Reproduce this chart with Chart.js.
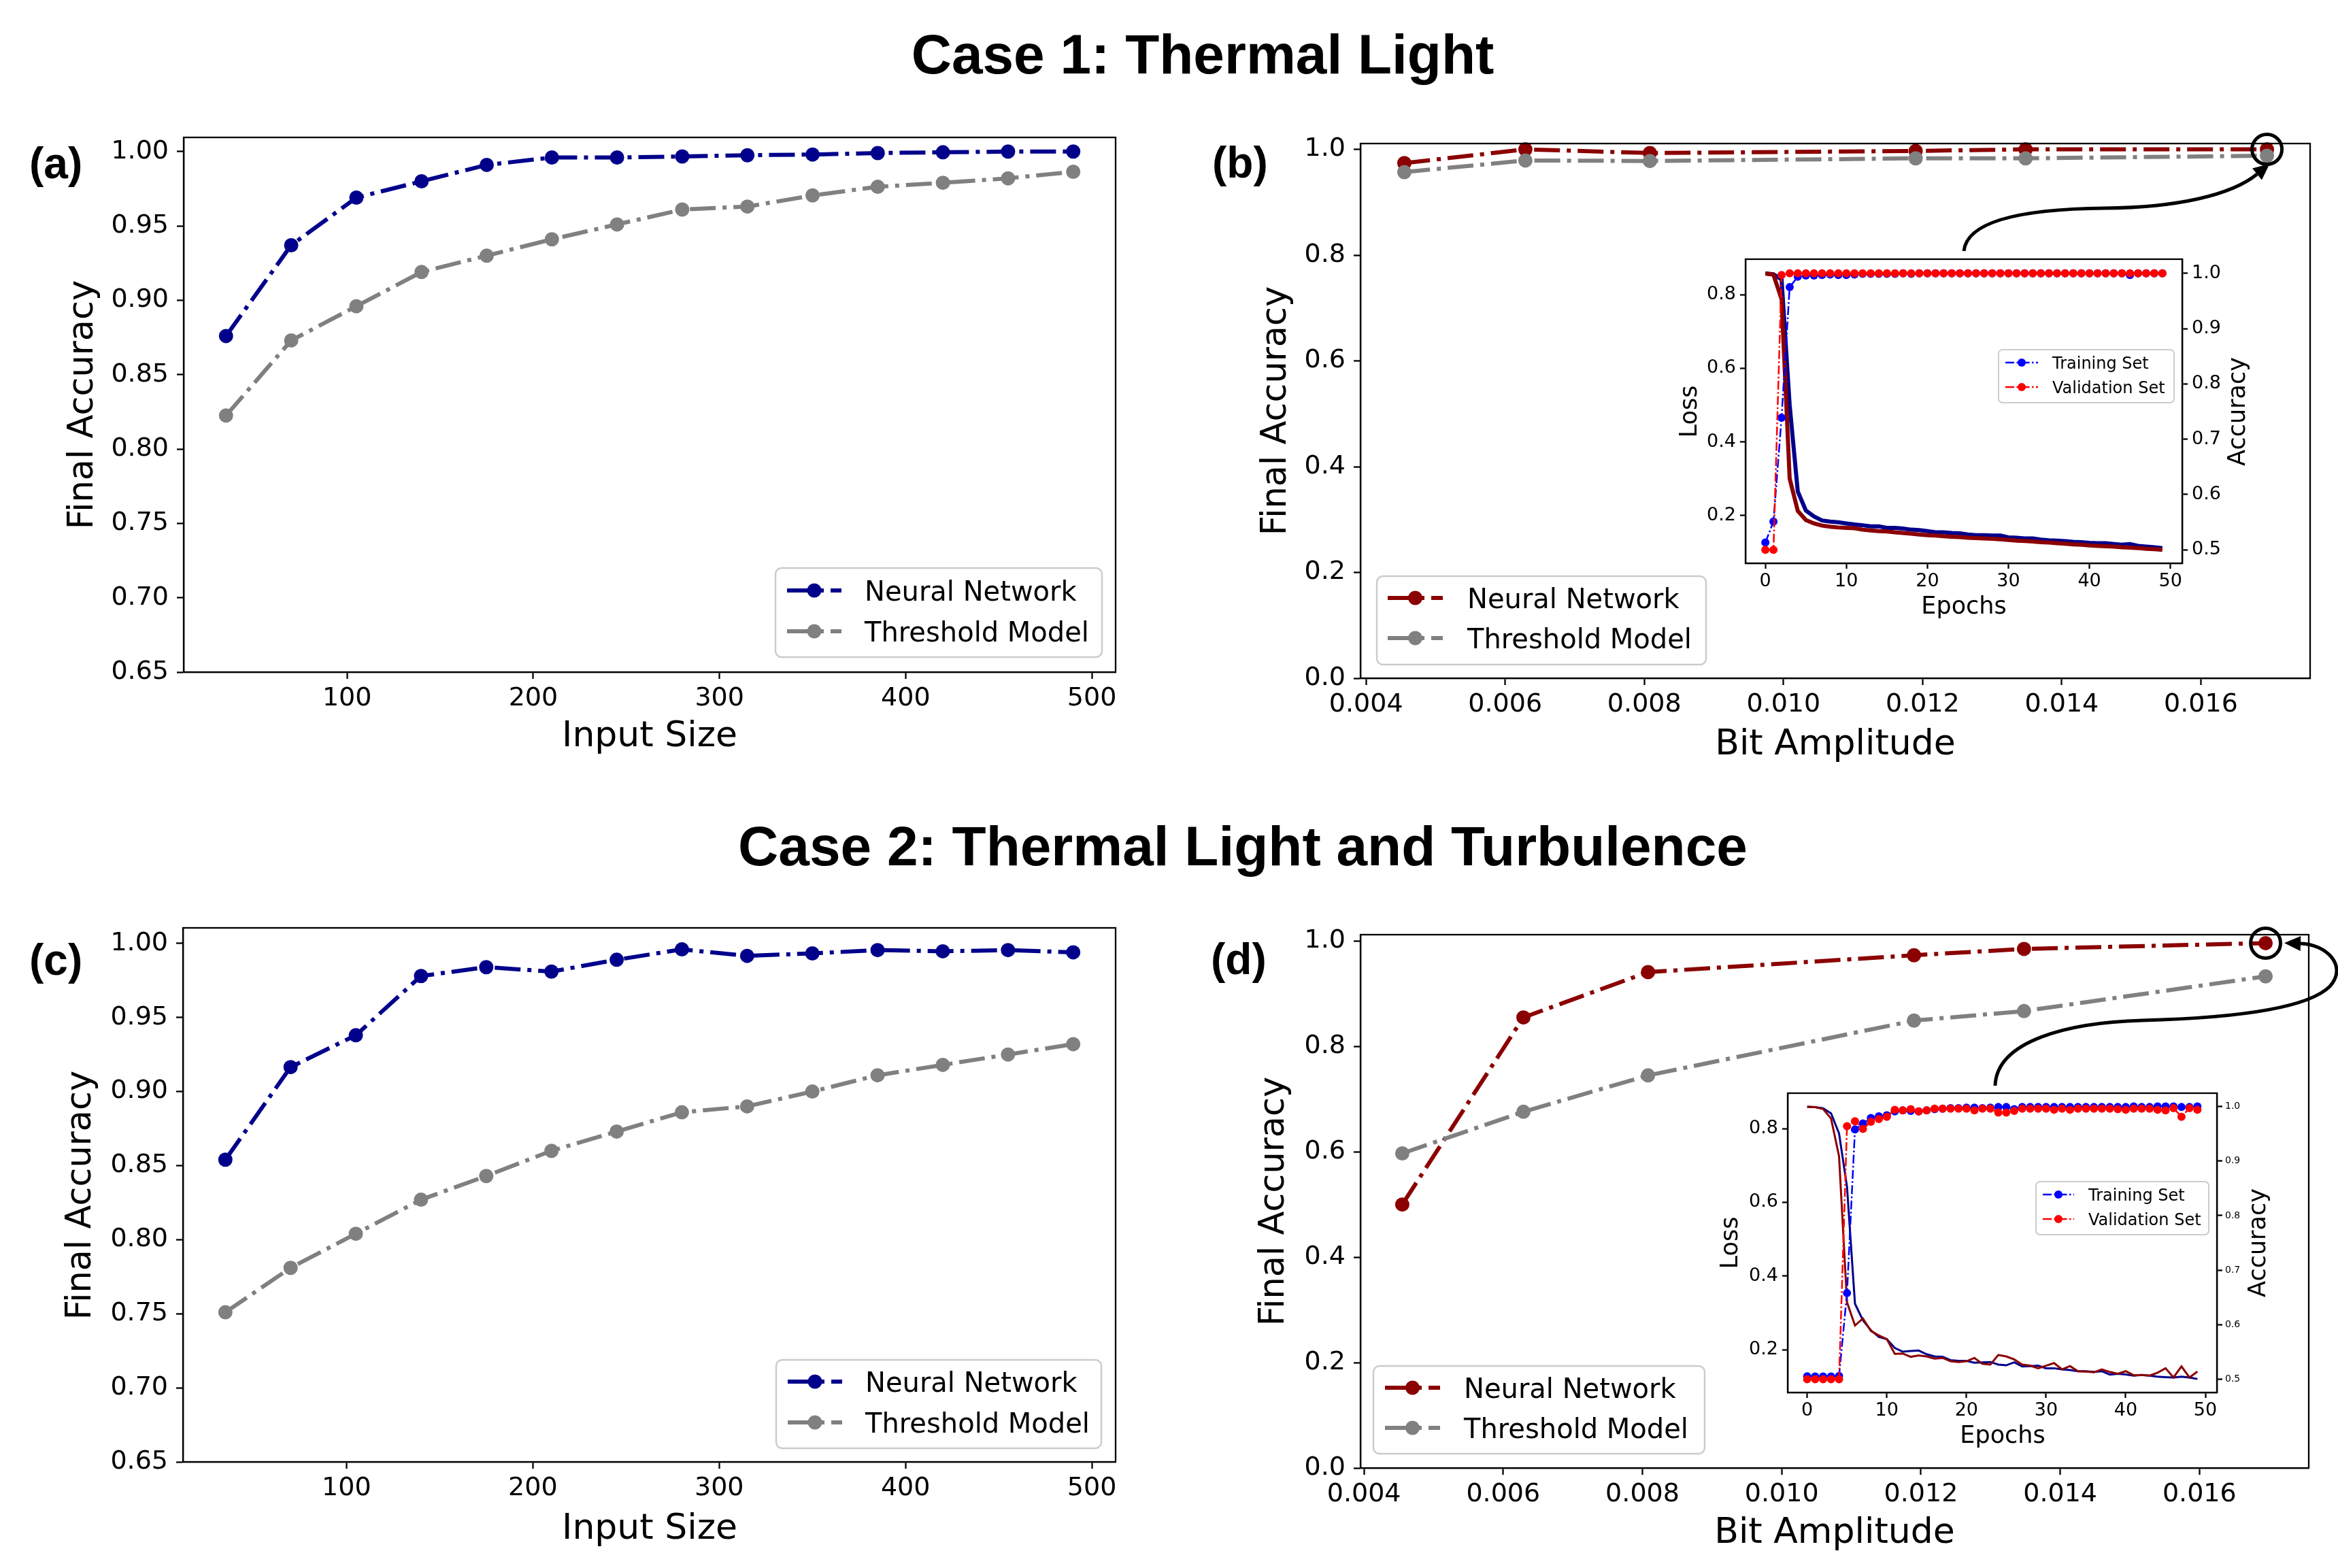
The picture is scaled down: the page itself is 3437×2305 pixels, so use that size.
<!DOCTYPE html>
<html>
<head>
<meta charset="utf-8">
<script src="https://cdn.jsdelivr.net/npm/chart.js@4.4.0/dist/chart.umd.min.js"></script>
<style>
  html, body { margin: 0; padding: 0; background: #fff; }
  body { width: 3437px; height: 2305px; position: relative; overflow: hidden; }
  canvas { position: absolute; }
  .title { position: absolute; white-space: nowrap; transform: translateX(-50%);
           font: bold 82px "Liberation Sans", Arial, sans-serif; line-height: 82px; color: #000; }
</style>
</head>
<body>
<div class="title" style="left:1768px; top:39px;">Case 1: Thermal Light</div>
<div class="title" style="left:1827px; top:1203px;">Case 2: Thermal Light and Turbulence</div>
<canvas id="chartA"></canvas>
<canvas id="chartB"></canvas>
<canvas id="chartC"></canvas>
<canvas id="chartD"></canvas>
<canvas id="insetB"></canvas>
<canvas id="insetD"></canvas>
<script>
// ---------- data ----------
const inputSize = [35, 70, 105, 140, 175, 210, 245, 280, 315, 350, 385, 420, 455, 490];
const nnCase1 = [0.876, 0.937, 0.969, 0.980, 0.991, 0.996, 0.996, 0.9967, 0.9975, 0.998, 0.999, 0.9995, 1.0, 1.0];
const thCase1 = [0.8225, 0.873, 0.896, 0.919, 0.930, 0.941, 0.951, 0.961, 0.963, 0.9705, 0.9763, 0.979, 0.982, 0.9864];
const nnCase2 = [0.854, 0.9165, 0.938, 0.978, 0.984, 0.981, 0.989, 0.996, 0.9916, 0.9933, 0.9955, 0.9947, 0.9955, 0.994];
const thCase2 = [0.751, 0.781, 0.804, 0.827, 0.843, 0.860, 0.873, 0.886, 0.890, 0.900, 0.911, 0.918, 0.925, 0.932];

const bitAmp = [0.00455, 0.00629, 0.00808, 0.0119, 0.01348, 0.01695];
const nnAmp1 = [0.974, 1.0, 0.993, 0.997, 1.0, 1.0];
const thAmp1 = [0.957, 0.979, 0.978, 0.983, 0.983, 0.988];
const nnAmp2 = [0.500, 0.855, 0.941, 0.973, 0.985, 0.996];
const thAmp2 = [0.597, 0.676, 0.745, 0.849, 0.867, 0.933];

const epochs = [0, 1, 2, 3, 4, 5, 6, 7, 8, 9, 10, 11, 12, 13, 14, 15, 16, 17, 18, 19,
                20, 21, 22, 23, 24, 25, 26, 27, 28, 29, 30, 31, 32, 33, 34, 35, 36, 37, 38, 39,
                40, 41, 42, 43, 44, 45, 46, 47, 48, 49];

// inset of (b): case 1 training history at the largest bit amplitude
const lossTrain1 = [0.858, 0.856, 0.842, 0.500, 0.265, 0.213, 0.197, 0.186, 0.183, 0.181,
                    0.178, 0.175, 0.173, 0.170, 0.170, 0.166, 0.166, 0.164, 0.161, 0.160,
                    0.157, 0.154, 0.154, 0.152, 0.151, 0.148, 0.146, 0.146, 0.145, 0.145,
                    0.140, 0.139, 0.137, 0.137, 0.134, 0.132, 0.131, 0.130, 0.128, 0.127,
                    0.125, 0.124, 0.124, 0.122, 0.120, 0.122, 0.117, 0.115, 0.113, 0.111];
const lossVal1 = [0.858, 0.855, 0.788, 0.300, 0.212, 0.187, 0.178, 0.172, 0.169, 0.167,
                  0.166, 0.165, 0.161, 0.159, 0.157, 0.156, 0.154, 0.152, 0.150, 0.148,
                  0.146, 0.145, 0.143, 0.142, 0.141, 0.139, 0.138, 0.137, 0.136, 0.135,
                  0.133, 0.131, 0.130, 0.129, 0.127, 0.126, 0.124, 0.123, 0.121, 0.120,
                  0.118, 0.117, 0.116, 0.115, 0.113, 0.112, 0.111, 0.109, 0.108, 0.106];
const accTrain1 = [0.513, 0.551, 0.739, 0.975, 0.994, 0.996, 0.996, 0.997, 0.998, 0.997,
                   0.997, 0.998, 0.999, 0.999, 0.999, 0.999, 0.999, 1.0, 0.999, 1.0,
                   1.0, 1.0, 1.0, 1.0, 1.0, 1.0, 1.0, 1.0, 1.0, 1.0,
                   1.0, 1.0, 1.0, 1.0, 1.0, 1.0, 1.0, 1.0, 1.0, 1.0,
                   1.0, 1.0, 1.0, 1.0, 1.0, 0.997, 1.0, 1.0, 1.0, 1.0];
const accVal1 = [0.5, 0.5, 0.997, 1.0, 1.0, 1.0, 1.0, 1.0, 1.0, 1.0,
                 1.0, 1.0, 1.0, 1.0, 1.0, 1.0, 1.0, 1.0, 1.0, 1.0,
                 1.0, 1.0, 1.0, 1.0, 1.0, 1.0, 1.0, 1.0, 1.0, 1.0,
                 1.0, 1.0, 1.0, 1.0, 1.0, 1.0, 1.0, 1.0, 1.0, 1.0,
                 1.0, 1.0, 1.0, 1.0, 1.0, 1.0, 1.0, 1.0, 1.0, 1.0];

// inset of (d): case 2 training history at the largest bit amplitude
const lossTrain2 = [0.859, 0.858, 0.855, 0.841, 0.787, 0.642, 0.325, 0.280, 0.253, 0.235,
                    0.229, 0.205, 0.195, 0.197, 0.198, 0.188, 0.182, 0.181, 0.172, 0.170,
                    0.170, 0.165, 0.166, 0.167, 0.160, 0.158, 0.166, 0.155, 0.156, 0.157,
                    0.150, 0.150, 0.147, 0.145, 0.142, 0.142, 0.140, 0.142, 0.133, 0.135,
                    0.133, 0.130, 0.132, 0.130, 0.127, 0.126, 0.125, 0.127, 0.125, 0.121];
const lossVal2 = [0.859, 0.858, 0.853, 0.827, 0.725, 0.329, 0.266, 0.285, 0.251, 0.239,
                  0.229, 0.189, 0.190, 0.181, 0.185, 0.182, 0.176, 0.178, 0.169, 0.167,
                  0.169, 0.178, 0.162, 0.160, 0.186, 0.182, 0.174, 0.160, 0.157, 0.150,
                  0.157, 0.164, 0.147, 0.156, 0.142, 0.141, 0.139, 0.147, 0.140, 0.135,
                  0.142, 0.131, 0.132, 0.130, 0.138, 0.150, 0.125, 0.155, 0.125, 0.141];
const accTrain2 = [0.5055, 0.505, 0.505, 0.505, 0.506, 0.658, 0.958, 0.969, 0.979, 0.982,
                   0.984, 0.991, 0.993, 0.992, 0.991, 0.993, 0.995, 0.996, 0.997, 0.997,
                   0.998, 0.998, 0.997, 0.998, 0.999, 0.999, 0.995, 0.999, 0.999, 0.999,
                   0.999, 0.999, 0.999, 0.999, 0.999, 0.999, 0.999, 0.999, 0.999, 0.999,
                   0.999, 1.0, 0.999, 0.999, 1.0, 1.0, 1.0, 0.999, 0.999, 1.0];
const accVal2 = [0.5, 0.5, 0.5, 0.5, 0.5, 0.964, 0.973, 0.959, 0.972, 0.977,
                 0.981, 0.994, 0.993, 0.995, 0.991, 0.993, 0.996, 0.996, 0.996, 0.996,
                 0.996, 0.993, 0.996, 0.996, 0.989, 0.989, 0.992, 0.996, 0.996, 0.996,
                 0.996, 0.994, 0.996, 0.994, 0.996, 0.996, 0.996, 0.996, 0.996, 0.995,
                 0.994, 0.996, 0.996, 0.996, 0.994, 0.993, 0.997, 0.981, 0.997, 0.994];

// tick labels
const inputTicks = [100, 200, 300, 400, 500];
const accTicksFine = [0.65, 0.70, 0.75, 0.80, 0.85, 0.90, 0.95, 1.00];
const ampTicks = [0.004, 0.006, 0.008, 0.010, 0.012, 0.014, 0.016];
const accTicksCoarse = [0.0, 0.2, 0.4, 0.6, 0.8, 1.0];
const epochTicks = [0, 10, 20, 30, 40, 50];
const lossTicks = [0.2, 0.4, 0.6, 0.8];
const accTicksInset = [0.5, 0.6, 0.7, 0.8, 0.9, 1.0];

// ---------- helpers ----------
const pts = (xs, ys) => xs.map((x, i) => ({ x, y: ys[i] }));
const NAVY = '#00008b', MAROON = '#8b0000', GREY = '#808080';

function axis(pos, min, max, ticks, digits, size, tickLen, pad, fit) {
  return {
    type: 'linear', position: pos, min, max,
    afterBuildTicks: s => { s.ticks = ticks.map(v => ({ value: v })); },
    afterFit: s => { if (pos === 'bottom') s.height = fit; else s.width = fit; },
    ticks: { autoSkip: false, maxRotation: 0, minRotation: 0, padding: pad, color: '#000',
             font: { family: 'DejaVu Sans', size }, callback: v => Number(v).toFixed(digits) },
    grid: { display: true, drawOnChartArea: false, drawTicks: true, tickLength: tickLen,
            tickWidth: 2.3, tickColor: '#000' },
    border: { display: true, color: '#000', width: 2.3 }
  };
}

function series(label, xs, ys, color, o) {
  return Object.assign({
    label, data: pts(xs, ys), borderColor: color, backgroundColor: color,
    pointBackgroundColor: color, pointBorderColor: color, pointBorderWidth: 0,
    tension: 0, clip: false
  }, o);
}

function roundBox(ctx, x0, y0, x1, y1, r) {
  ctx.beginPath();
  ctx.moveTo(x0 + r, y0);
  ctx.arcTo(x1, y0, x1, y1, r);
  ctx.arcTo(x1, y1, x0, y1, r);
  ctx.arcTo(x0, y1, x0, y0, r);
  ctx.arcTo(x0, y0, x1, y0, r);
  ctx.closePath();
}

// frame, axis titles, legend and the circle/arrow annotations
const decorPlugin = {
  id: 'decor',
  beforeDraw(chart, args, o) {
    if (!o.fill) return;
    const a = chart.chartArea, ctx = chart.ctx;
    ctx.save();
    ctx.fillStyle = '#fff';
    ctx.fillRect(a.left, a.top, a.right - a.left, a.bottom - a.top);
    ctx.restore();
  },
  afterDraw(chart, args, o) {
    const ctx = chart.ctx, a = chart.chartArea, [ox, oy] = o.origin;
    ctx.save();
    ctx.strokeStyle = '#000';
    ctx.lineWidth = 2.3;
    ctx.strokeRect(a.left, a.top, a.right - a.left, a.bottom - a.top);

    (o.labels || []).forEach(l => {
      ctx.save();
      ctx.translate(l.x - ox, l.y - oy);
      if (l.rot) ctx.rotate(l.rot);
      ctx.font = `${l.weight || 'normal'} ${l.size}px ${l.family || '"DejaVu Sans"'}`;
      ctx.textAlign = l.align || 'center';
      ctx.textBaseline = 'alphabetic';
      ctx.fillStyle = '#000';
      ctx.fillText(l.text, 0, 0);
      ctx.restore();
    });

    const lg = o.legend;
    if (lg) {
      roundBox(ctx, lg.box[0] - ox, lg.box[1] - oy, lg.box[2] - ox, lg.box[3] - oy, lg.radius);
      ctx.fillStyle = 'rgba(255,255,255,0.8)';
      ctx.fill();
      ctx.strokeStyle = '#cccccc';
      ctx.lineWidth = lg.frame;
      ctx.stroke();
      lg.items.forEach((di, k) => {
        const ds = chart.data.datasets[di];
        const y = lg.rows[k] - oy, h0 = lg.handle[0] - ox, h1 = lg.handle[1] - ox;
        ctx.save();
        ctx.strokeStyle = ds.borderColor;
        ctx.lineWidth = ds.borderWidth;
        ctx.lineCap = 'butt';
        ctx.setLineDash(ds.borderDash || []);
        ctx.beginPath(); ctx.moveTo(h0, y); ctx.lineTo(h1, y); ctx.stroke();
        ctx.setLineDash([]);
        ctx.fillStyle = ds.pointBackgroundColor;
        ctx.beginPath(); ctx.arc((h0 + h1) / 2, y, ds.pointRadius, 0, 2 * Math.PI); ctx.fill();
        ctx.fillStyle = '#000';
        ctx.font = `${lg.size}px "DejaVu Sans"`;
        ctx.textAlign = 'left';
        ctx.textBaseline = 'alphabetic';
        ctx.fillText(ds.label, lg.text - ox, y + lg.size * 0.3645);
        ctx.restore();
      });
    }

    if (o.ring) {
      const el = chart.getDatasetMeta(o.ring.dataset).data[o.ring.index];
      ctx.beginPath();
      ctx.arc(el.x, el.y, o.ring.r, 0, 2 * Math.PI);
      ctx.lineWidth = o.ring.lw;
      ctx.strokeStyle = '#000';
      ctx.stroke();
    }

    if (o.arrow) {
      const ar = o.arrow;
      ctx.beginPath();
      ctx.moveTo(ar.start[0] - ox, ar.start[1] - oy);
      ar.curves.forEach(c => ctx.bezierCurveTo(c[0] - ox, c[1] - oy, c[2] - ox, c[3] - oy, c[4] - ox, c[5] - oy));
      ctx.lineWidth = ar.lw;
      ctx.strokeStyle = '#000';
      ctx.stroke();
      const c = ar.curves[ar.curves.length - 1];
      const ang = Math.atan2(c[5] - c[3], c[4] - c[2]);
      const bx = c[4] - ox, by = c[5] - oy;
      ctx.beginPath();
      ctx.moveTo(bx + Math.cos(ang) * ar.head, by + Math.sin(ang) * ar.head);
      ctx.lineTo(bx + Math.cos(ang + Math.PI / 2) * ar.half, by + Math.sin(ang + Math.PI / 2) * ar.half);
      ctx.lineTo(bx - Math.cos(ang + Math.PI / 2) * ar.half, by - Math.sin(ang + Math.PI / 2) * ar.half);
      ctx.closePath();
      ctx.fillStyle = '#000';
      ctx.fill();
    }
    ctx.restore();
  }
};

// box = [x, y, w, h] of the canvas on the page, plot = [left, top, right, bottom] of the axes
function makeChart(id, box, plot, fit, scales, datasets, decor) {
  const c = document.getElementById(id);
  c.width = box[2]; c.height = box[3];
  c.style.left = box[0] + 'px'; c.style.top = box[1] + 'px';
  c.style.width = box[2] + 'px'; c.style.height = box[3] + 'px';
  const padding = {
    left: plot[0] - box[0] - fit.l,
    top: plot[1] - box[1],
    right: box[0] + box[2] - plot[2] - (fit.r || 0),
    bottom: box[1] + box[3] - plot[3] - fit.b
  };
  decor.origin = [box[0], box[1]];
  return new Chart(c, {
    type: 'line',
    data: { datasets },
    options: {
      responsive: false, animation: false, devicePixelRatio: 1, events: [],
      layout: { padding },
      plugins: { legend: { display: false }, tooltip: { enabled: false }, decor },
      scales
    },
    plugins: [decorPlugin]
  });
}

const mainDash = [38, 10, 6, 10];
const mainLine = (label, xs, ys, color, order) =>
  series(label, xs, ys, color, { borderWidth: 6, borderDash: mainDash, pointRadius: 10.5, pointHoverRadius: 10.5, order });

const yLab = (x, y) => ({ text: 'Final Accuracy', x, y, size: 51, rot: -Math.PI / 2 });
const panelTag = (text, x, y) => ({ text, x, y, size: 64, weight: 'bold', family: '"Liberation Sans", Arial', align: 'left' });

// ---------- (a) ----------
makeChart('chartA', [0, 150, 1720, 1010], [270, 202, 1640, 988], { l: 150, b: 60 },
  { x: axis('bottom', 12.25, 512.75, inputTicks, 0, 38, 10, 6, 60),
    y: axis('left', 0.65, 1.0095, accTicksFine, 2, 38, 10, 12, 150) },
  [ mainLine('Neural Network', inputSize, nnCase1, NAVY, 2),
    mainLine('Threshold Model', inputSize, thCase1, GREY, 1) ],
  { labels: [ panelTag('(a)', 43, 262), yLab(136, 595), { text: 'Input Size', x: 955, y: 1097, size: 52 } ],
    legend: { box: [1140, 835, 1620, 966], rows: [868, 928], handle: [1157, 1237], text: 1271, size: 40, radius: 9, frame: 2.5, items: [0, 1] } });

// ---------- (b) ----------
makeChart('chartB', [1720, 150, 1717, 1010], [2000, 211, 3396, 997], { l: 150, b: 60 },
  { x: axis('bottom', 0.00392, 0.01757, ampTicks, 3, 38, 10, 6, 60),
    y: axis('left', 0, 1.011, accTicksCoarse, 1, 38, 10, 12, 150) },
  [ mainLine('Neural Network', bitAmp, nnAmp1, MAROON, 2),
    mainLine('Threshold Model', bitAmp, thAmp1, GREY, 1) ],
  { labels: [ panelTag('(b)', 1782, 261), yLab(1890, 604), { text: 'Bit Amplitude', x: 2698, y: 1109, size: 52 } ],
    legend: { box: [2024, 847, 2508, 977], rows: [879, 938], handle: [2040, 2121], text: 2157, size: 40, radius: 9, frame: 2.5, items: [0, 1] },
    ring: { dataset: 0, index: 5, r: 22, lw: 5 },
    arrow: { start: [2887, 369], lw: 5, head: 24, half: 11,
             curves: [[2892, 320, 2990, 307, 3095, 306], [3200, 305, 3280, 287, 3318, 256]] } });

// ---------- (c) ----------
makeChart('chartC', [0, 1300, 1720, 1005], [269, 1364, 1640, 2149], { l: 150, b: 60 },
  { x: axis('bottom', 12.25, 512.75, inputTicks, 0, 38, 10, 6, 60),
    y: axis('left', 0.65, 1.0105, accTicksFine, 2, 38, 10, 12, 150) },
  [ mainLine('Neural Network', inputSize, nnCase2, NAVY, 2),
    mainLine('Threshold Model', inputSize, thCase2, GREY, 1) ],
  { labels: [ panelTag('(c)', 43, 1433), yLab(133, 1757), { text: 'Input Size', x: 955, y: 2262, size: 52 } ],
    legend: { box: [1141, 1999, 1619, 2129], rows: [2031, 2091], handle: [1158, 1238], text: 1272, size: 40, radius: 9, frame: 2.5, items: [0, 1] } });

// ---------- (d) ----------
makeChart('chartD', [1720, 1300, 1717, 1005], [2000, 1374, 3394, 2158], { l: 150, b: 60 },
  { x: axis('bottom', 0.00395, 0.01757, ampTicks, 3, 38, 10, 6, 60),
    y: axis('left', 0, 1.012, accTicksCoarse, 1, 38, 10, 12, 150) },
  [ mainLine('Neural Network', bitAmp, nnAmp2, MAROON, 2),
    mainLine('Threshold Model', bitAmp, thAmp2, GREY, 1) ],
  { labels: [ panelTag('(d)', 1780, 1432), yLab(1887, 1766), { text: 'Bit Amplitude', x: 2697, y: 2268, size: 52 } ],
    legend: { box: [2019, 2008, 2506, 2137], rows: [2040, 2099], handle: [2036, 2117], text: 2152, size: 40, radius: 9, frame: 2.5, items: [0, 1] },
    ring: { dataset: 0, index: 5, r: 22, lw: 5 },
    arrow: { start: [2933, 1596], lw: 5, head: 24, half: 11,
             curves: [[2935, 1530, 3040, 1503, 3150, 1500], [3300, 1496, 3395, 1480, 3425, 1450], [3452, 1420, 3420, 1388, 3382, 1387]] } });

// ---------- insets ----------
function insetSets(lt, lv, at, av, lossW) {
  const accDash = [13, 3.5, 2.5, 3.5];
  return [
    series('Training Loss', epochs, lt, NAVY, { borderWidth: lossW, pointRadius: 0, yAxisID: 'y', order: 4, clip: undefined }),
    series('Validation Loss', epochs, lv, MAROON, { borderWidth: lossW, pointRadius: 0, yAxisID: 'y', order: 3, clip: undefined }),
    series('Training Set', epochs, at, '#0000ff', { borderWidth: 2.5, borderDash: accDash, pointRadius: 6, yAxisID: 'y1', order: 2 }),
    series('Validation Set', epochs, av, '#ff0000', { borderWidth: 2.5, borderDash: accDash, pointRadius: 6, yAxisID: 'y1', order: 1 })
  ];
}

makeChart('insetB', [2420, 340, 960, 590], [2566, 381, 3208, 828], { l: 80, r: 60, b: 50 },
  { x: axis('bottom', -2.45, 51.45, epochTicks, 0, 27, 8, 3, 50),
    y: axis('left', 0.0696, 0.897, lossTicks, 1, 27, 8, 6, 80),
    y1: axis('right', 0.4756, 1.0256, accTicksInset, 1, 27, 8, 6, 60) },
  insetSets(lossTrain1, lossVal1, accTrain1, accVal1, 6),
  { fill: true,
    labels: [ { text: 'Loss', x: 2494, y: 605, size: 35, rot: -Math.PI / 2 },
              { text: 'Accuracy', x: 3300, y: 605, size: 35, rot: -Math.PI / 2 },
              { text: 'Epochs', x: 2887, y: 902, size: 35 } ],
    legend: { box: [2938, 514, 3196, 592], rows: [533, 569], handle: [2948, 2996], text: 3017, size: 24, radius: 6, frame: 2, items: [2, 3] } });

makeChart('insetD', [2480, 1570, 950, 570], [2628, 1607, 3259, 2047], { l: 80, r: 60, b: 50 },
  { x: axis('bottom', -2.45, 51.45, epochTicks, 0, 27, 8, 3, 50),
    y: axis('left', 0.0843, 0.896, lossTicks, 1, 27, 8, 6, 80),
    y1: axis('right', 0.4758, 1.0244, accTicksInset, 1, 14, 8, 4, 60) },
  insetSets(lossTrain2, lossVal2, accTrain2, accVal2, 3),
  { fill: true,
    labels: [ { text: 'Loss', x: 2554, y: 1827, size: 35, rot: -Math.PI / 2 },
              { text: 'Accuracy', x: 3330, y: 1827, size: 35, rot: -Math.PI / 2 },
              { text: 'Epochs', x: 2944, y: 2121, size: 35 } ],
    legend: { box: [2993, 1737, 3247, 1815], rows: [1756, 1792], handle: [3003, 3049], text: 3070, size: 24, radius: 6, frame: 2, items: [2, 3] } });
</script>
</body>
</html>
